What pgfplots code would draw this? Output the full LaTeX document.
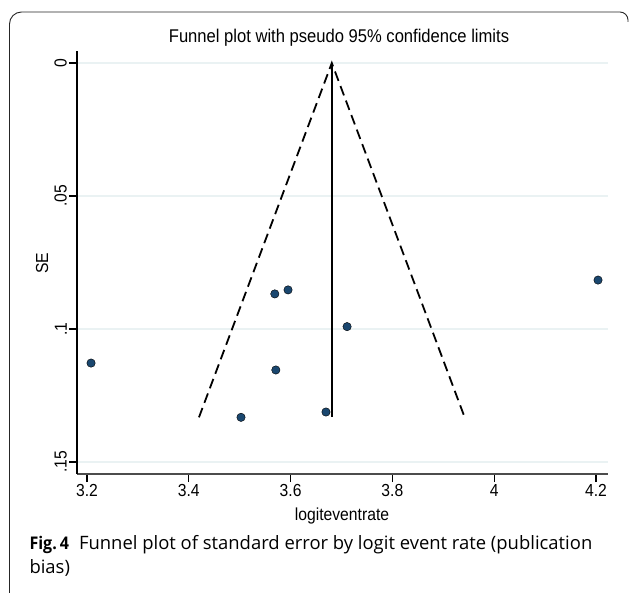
\documentclass[border=0pt]{standalone}
\usepackage{pgfplots}
\pgfplotsset{compat=1.18}
\usepackage{fontspec}
\setmainfont{Liberation Sans}[FakeStretch=0.9]
\newfontfamily\capfont{Open Sans}
\newfontfamily\capbold{Open Sans Bold}[FakeStretch=0.92]
\definecolor{statanavy}{HTML}{1A476F}
\definecolor{gridblue}{HTML}{EAF2F3}

\begin{document}
\begin{tikzpicture}[x=1bp,y=1bp]
\useasboundingbox (0,0) rectangle (629,-593);
% journal frame
\draw[line width=0.9bp, black!85] (9.5,-593) -- (9.5,-24)
  arc[start angle=180, end angle=90, radius=12] -- (620,-12)
  arc[start angle=90, end angle=0, radius=8] -- (628,-22);

\begin{axis}[
  at={(77bp,-474bp)}, anchor=south west,
  scale only axis, width=531bp, height=423bp,
  xmin=3.1804, xmax=4.2236,
  ymin=-0.00451, ymax=0.15451,
  y dir=reverse,
  axis x line*=bottom, axis y line*=left,
  x axis line style={-, line width=1.2bp, black!70},
  y axis line style={-, line width=1.2bp, black},
  xtick={3.2,3.4,3.6,3.8,4,4.2},
  xticklabels={3.2,3.4,3.6,3.8,4,4.2},
  ytick={0,0.05,0.1,0.15},
  yticklabels={0,.05,.1,.15},
  tick align=outside, major tick length=8bp,
  every tick/.style={black, line width=1.1bp},
  ymajorgrids, grid style={gridblue, line width=1.5bp},
  /pgf/number format/assume math mode=true,
  tick label style={font=\fontsize{17.5}{17.5}\selectfont},
  yticklabel style={rotate=90, anchor=south, inner sep=2bp},
  xticklabel style={inner sep=2bp},
  clip=false,
]
% pseudo 95% limits
\addplot[black, line width=1.8bp, dash pattern=on 10bp off 5.5bp]
  coordinates {(3.420,0.1332)(3.681,0)(3.942,0.1332)};
\addplot[black, line width=1.8bp]
  coordinates {(3.681,0)(3.681,0.1332)};
% studies
\addplot[only marks, mark=*, mark size=4.2bp, mark options={fill=statanavy, draw=none}]
  coordinates {
    (3.208,0.1128)(3.5026,0.1332)(3.569,0.0868)(3.595,0.0853)
    (3.711,0.0991)(3.571,0.1154)(3.6695,0.1312)(4.204,0.0816)
  };
\end{axis}

\node[font=\fontsize{18.5}{18.5}\selectfont] at (339,-38) {Funnel plot with pseudo 95\% confidence limits};
\node[font=\fontsize{17.5}{17.5}\selectfont] at (342,-516) {logiteventrate};
\node[font=\fontsize{17.5}{17.5}\selectfont, rotate=90] at (42,-263) {SE};

\node[anchor=base west, font=\capfont\fontsize{18.5}{22}\selectfont] at (26,-549)
  {{\capbold\fontsize{17.5}{22}\selectfont Fig.\,4}\hspace{0.55em}Funnel plot of standard error by logit event rate (publication};
\node[anchor=base west, font=\capfont\fontsize{18.5}{22}\selectfont] at (26,-573) {bias)};
\end{tikzpicture}
\end{document}
